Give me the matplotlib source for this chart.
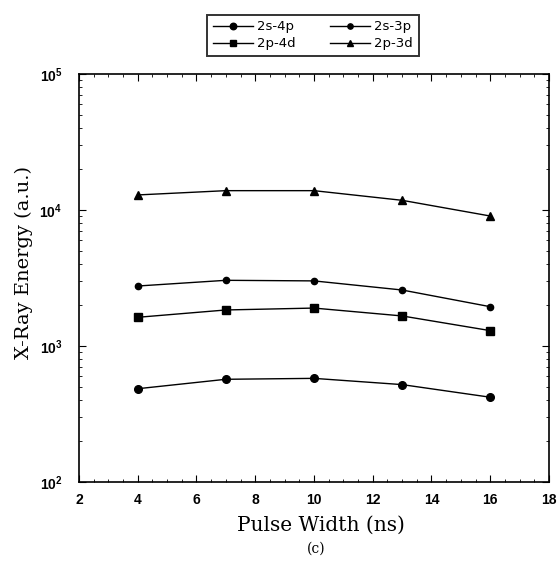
import matplotlib
matplotlib.use("Agg")
import matplotlib.pyplot as plt
from matplotlib.ticker import LogLocator, MultipleLocator, NullFormatter

# pulse width (ns) and x-ray energy per transition
pulse_width = [4, 7, 10, 13, 16]
e_2s4p = [485, 569, 578, 520, 420]
e_2s3p = [2760, 3040, 3010, 2580, 1945]
e_2p4d = [1625, 1840, 1900, 1663, 1297]
e_2p3d = [12900, 13870, 13870, 11780, 9030]

x_ticks = [2, 4, 6, 8, 10, 12, 14, 16, 18]

fig = plt.figure(figsize=(5.59, 5.63), dpi=100)
ax = fig.add_axes([0.1413, 0.1439, 0.8407, 0.7247])

lw = 1.0
h1, = ax.plot(pulse_width, e_2s4p, "-o", color="black", lw=lw, ms=5.5, label="2s-4p")
h2, = ax.plot(pulse_width, e_2s3p, "-o", color="black", lw=lw, ms=4.5, label="2s-3p")
h3, = ax.plot(pulse_width, e_2p4d, "-s", color="black", lw=lw, ms=5.5, label="2p-4d")
h4, = ax.plot(pulse_width, e_2p3d, "-^", color="black", lw=lw, ms=5.5, label="2p-3d")

ax.set_yscale("log")
ax.set_ylim(1e2, 1e5)
ax.set_xlim(2, 18)
ax.set_xticks(x_ticks)
ax.xaxis.set_minor_locator(MultipleLocator(0.5))
ax.yaxis.set_minor_locator(LogLocator(base=10, subs=range(2, 10)))
ax.yaxis.set_minor_formatter(NullFormatter())
ax.tick_params(which="both", direction="in", top=True, right=True)
ax.tick_params(which="major", length=5, width=0.8)
ax.tick_params(axis="x", which="major", pad=8)
ax.tick_params(axis="y", which="major", pad=12)
ax.tick_params(which="minor", length=2.5, width=0.6)
for s in ax.spines.values():
    s.set_linewidth(1.2)

for lab in ax.get_xticklabels() + ax.get_yticklabels():
    lab.set_family("Liberation Sans")
    lab.set_fontsize(10)
    lab.set_fontweight("bold")

ax.set_xlabel("Pulse Width (ns)", family="DejaVu Serif", fontsize=14.5)
ax.xaxis.set_label_coords(0.515, -0.083)
ax.set_ylabel("X-Ray Energy (a.u.)", family="DejaVu Serif", fontsize=14)
ax.yaxis.set_label_coords(-0.098, 0.537)
fig.text(0.565, 0.018, "(c)", family="DejaVu Serif", fontsize=10, ha="center")

leg = fig.legend(handles=[h1, h3, h2, h4], ncol=2, loc="center",
                 bbox_to_anchor=(0.56, 0.937), fontsize=9.5, frameon=True,
                 fancybox=False, edgecolor="black", handlelength=3.0,
                 handletextpad=0.35, columnspacing=2.6, borderpad=0.45,
                 labelspacing=0.3, markerscale=0.85)
leg.get_frame().set_linewidth(1.4)

fig.savefig("out.png", dpi=100)
